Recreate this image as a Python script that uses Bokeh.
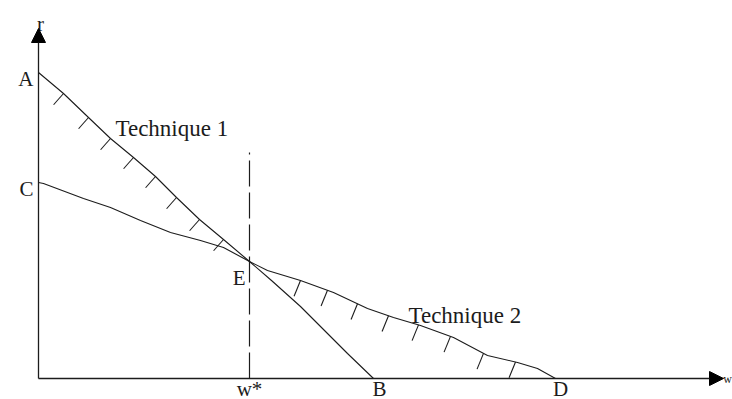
import numpy as np
from bokeh.plotting import figure
from bokeh.models import Range1d, Arrow, NormalHead
from bokeh.core.properties import value
from bokeh.embed import file_html
from bokeh.resources import INLINE

# Technique 1 wage-profit frontier (A -> E -> B)
t1_w = [0.00, 0.25, 0.50, 0.72, 0.95, 1.17, 1.38, 1.61, 1.85, 2.11, 2.33, 2.62, 2.89, 3.09, 3.35]
t1_r = [3.06, 2.85, 2.61, 2.40, 2.21, 2.02, 1.81, 1.59, 1.39, 1.17, 0.98, 0.72, 0.45, 0.25, 0.00]
# Technique 2 wage-profit frontier (C -> E -> D)
t2_w = [0.00, 0.05, 0.45, 0.72, 1.02, 1.32, 1.62, 1.85, 2.11, 2.29, 2.62, 2.95, 3.29, 3.55, 3.82, 4.15, 4.49, 4.79, 4.99, 5.17]
t2_r = [1.96, 1.95, 1.80, 1.71, 1.58, 1.46, 1.38, 1.31, 1.17, 1.08, 0.98, 0.86, 0.70, 0.61, 0.53, 0.41, 0.23, 0.16, 0.10, 0.00]
# hatch positions (w) on the outer envelope
hatch1_w = [0.25, 0.50, 0.72, 0.95, 1.17, 1.38, 1.61, 1.85]
hatch2_w = [2.62, 2.89, 3.19, 3.50, 3.80, 4.12, 4.45, 4.77]
# switch point
w_star = 2.11
E_r = 1.17
# point labels
pt_labels = ["A", "C", "E"]
pt_w = [0.0, 0.0, w_star]
pt_r = [3.06, 1.96, E_r]
ax_labels = ["w*", "B", "D"]
ax_w = [w_star, 3.35, 5.17]
curve_names = ["Technique 1", "Technique 2"]

FONT = value("Liberation Serif")
INK = "#1c1c1c"

p = figure(width=732, height=399, output_backend="svg", toolbar_location=None,
           x_range=Range1d(-0.38, 6.94), y_range=Range1d(-0.21, 3.78),
           min_border=0)
p.axis.visible = False
p.grid.visible = False
p.outline_line_color = None
p.background_fill_color = "white"
p.border_fill_color = "white"

# axes with arrows
p.add_layout(Arrow(end=NormalHead(size=14, fill_color="black", line_color="black"),
                   x_start=0, y_start=0, x_end=0, y_end=3.50,
                   line_color=INK, line_width=1.3))
p.add_layout(Arrow(end=NormalHead(size=14, fill_color="black", line_color="black"),
                   x_start=0, y_start=0, x_end=6.85, y_end=0,
                   line_color=INK, line_width=1.3))

# curves
p.line(t1_w, t1_r, line_color=INK, line_width=1.1)
p.line(t2_w, t2_r, line_color=INK, line_width=1.1)

# dashed vertical at w*
p.segment(x0=[w_star], y0=[0], x1=[w_star], y1=[2.26], line_color=INK,
          line_width=1.2, line_dash="26 6")

# hatch ticks
def hatch(ws, cw, cr, dx, dy, length):
    ws = np.asarray(ws)
    r0 = np.interp(ws, cw, cr)
    n = np.hypot(dx, dy)
    return ws, r0, ws + dx / n * length, r0 + dy / n * length

x0, y0, x1, y1 = hatch(hatch1_w, t1_w, t1_r, -0.66, -0.75, 0.15)
p.segment(x0=x0, y0=y0, x1=x1, y1=y1, line_color=INK, line_width=1.1)
x0, y0, x1, y1 = hatch(hatch2_w, t2_w, t2_r, -0.38, -0.93, 0.17)
p.segment(x0=x0, y0=y0, x1=x1, y1=y1, line_color=INK, line_width=1.1)

# labels
fs = "21px"
p.text(x=[pt_w[0] - 0.05, pt_w[1] - 0.05], y=[pt_r[0] - 0.06, pt_r[1] - 0.06],
       text=pt_labels[:2], text_font=FONT, text_font_size=fs, text_align="right",
       text_baseline="alphabetic", text_color=INK)
p.text(x=[pt_w[2] - 0.04], y=[pt_r[2] - 0.16], text=[pt_labels[2]], text_font=FONT,
       text_font_size=fs, text_align="right", text_baseline="alphabetic", text_color=INK)
p.text(x=[0.02], y=[3.55], text=["r"], text_font=FONT, text_font_size=fs,
       text_align="center", text_baseline="alphabetic", text_color=INK)
p.text(x=[ax_w[0], ax_w[1] + 0.06, ax_w[2] + 0.05], y=[0.02] * 3, text=ax_labels,
       text_font=FONT, text_font_size=fs, text_align="center", text_baseline="top",
       text_color=INK)
p.text(x=[6.935], y=[0.0], text=["w"], text_font=FONT, text_font_size="12px",
       text_align="right", text_baseline="middle", text_color=INK)
p.text(x=[0.77, 3.70], y=[2.50, 0.63], text=curve_names, text_font=FONT,
       text_font_size="23px", text_align="left", text_baseline="alphabetic", text_color=INK)

open("out.html", "w").write(file_html(p, INLINE))
